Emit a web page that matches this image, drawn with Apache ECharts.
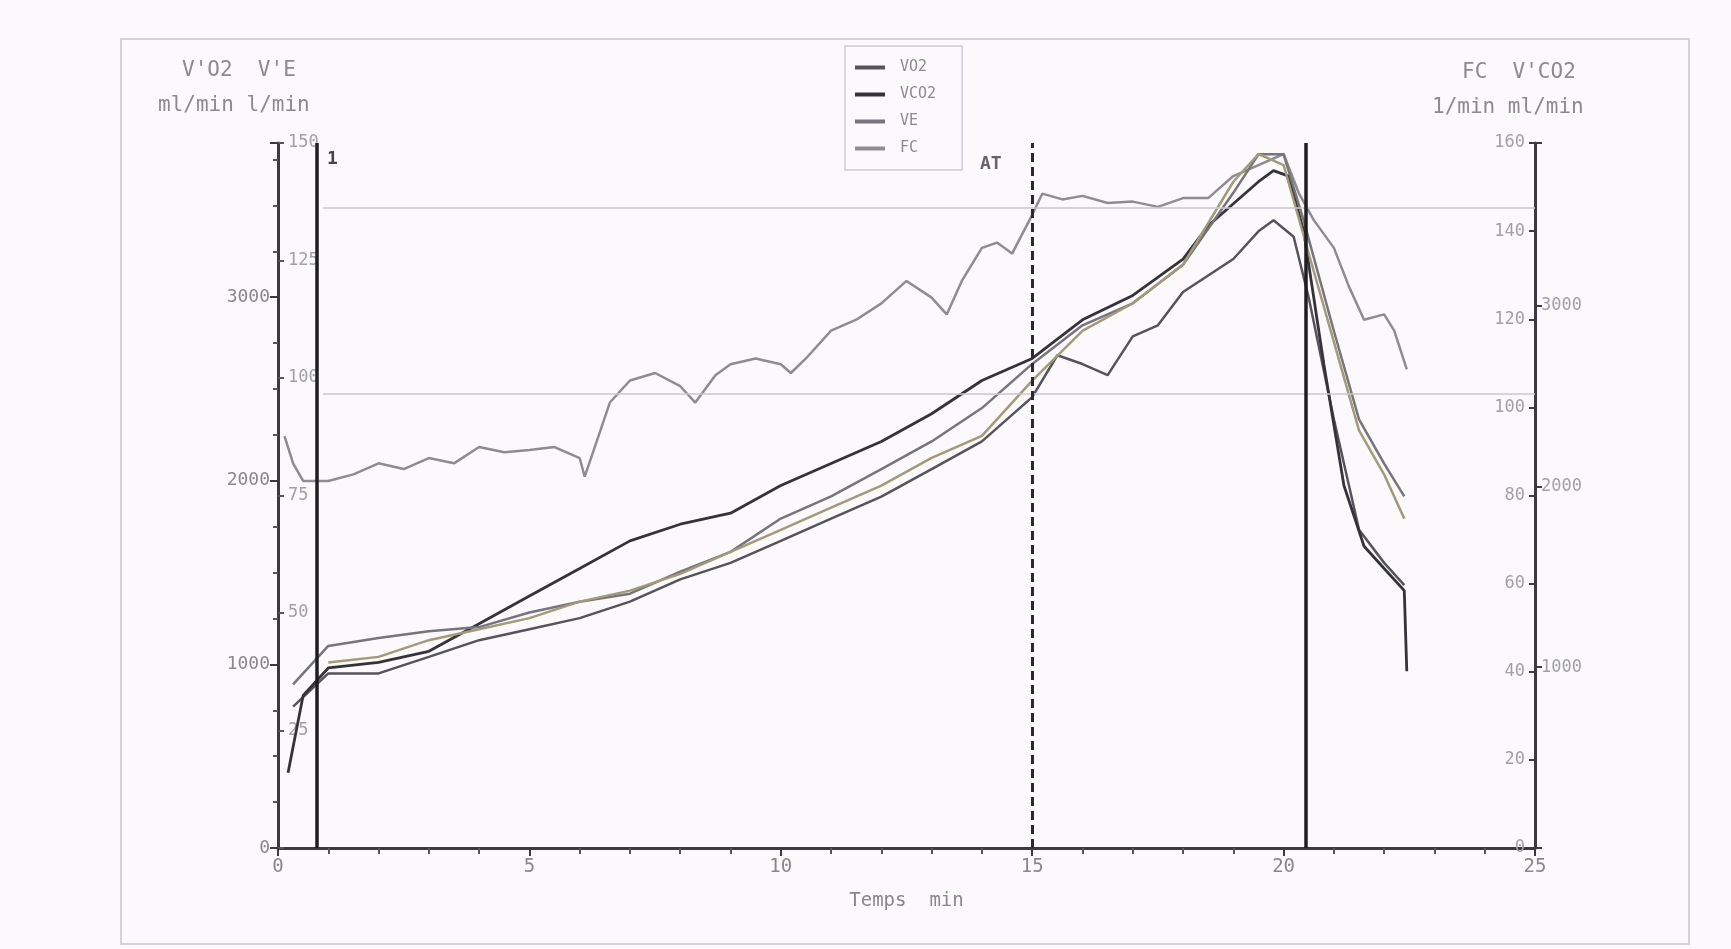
<!DOCTYPE html>
<html>
<head>
<meta charset="utf-8">
<script src="https://cdn.jsdelivr.net/npm/echarts@6/dist/echarts.min.js"></script>
<style>
html,body{margin:0;padding:0;background:#fbf9fb;}
#chart{width:1731px;height:949px;}
</style>
</head>
<body>
<div id="chart"></div>
<script>
'use strict';

// temps (min) et valeurs
var tVO2 = [0.3, 1, 2, 3, 4, 5, 6, 7, 8, 9, 10, 11, 12, 13, 14, 15, 15.5, 16, 16.5, 17, 17.5, 18, 18.5, 19, 19.5, 19.8, 20.2, 20.5, 21, 21.5, 22, 22.4];
var vo2 = [770, 951, 951, 1041, 1132, 1192, 1252, 1342, 1463, 1553, 1673, 1794, 1914, 2064, 2215, 2456, 2684, 2636, 2576, 2787, 2847, 3028, 3118, 3208, 3359, 3419, 3329, 2997, 2335, 1733, 1553, 1432];

var tVCO2 = [0.2, 0.5, 1, 2, 3, 4, 5, 6, 7, 8, 9, 10, 11, 12, 13, 14, 15, 16, 17, 18, 18.5, 19, 19.5, 19.8, 20.1, 20.4, 20.8, 21.2, 21.6, 22, 22.4, 22.45];
var vco2 = [416, 844, 996, 1027, 1088, 1241, 1394, 1546, 1699, 1791, 1852, 2005, 2127, 2249, 2402, 2586, 2708, 2922, 3057, 3258, 3442, 3564, 3686, 3747, 3717, 3411, 2677, 2005, 1669, 1546, 1424, 978];

var tVE = [0.3, 1, 2, 3, 4, 5, 6, 7, 8, 9, 10, 11, 12, 13, 14, 15, 16, 17, 18, 19, 19.5, 20, 20.4, 21, 21.5, 22, 22.4];
var ve = [34.8, 43.0, 44.7, 46.1, 47.0, 50.1, 52.4, 54.1, 58.8, 63.0, 70.1, 74.8, 80.6, 86.5, 93.6, 103.0, 111.2, 115.9, 124.1, 139.4, 147.6, 147.6, 133.5, 110.0, 91.2, 81.8, 74.8];

var tC5 = [1, 2, 3, 4, 5, 6, 7, 8, 9, 10, 11, 12, 13, 14, 15, 16, 17, 18, 19, 19.5, 20, 20.5, 21, 21.5, 22, 22.4];
var c5 = [1011, 1041, 1132, 1192, 1252, 1342, 1402, 1493, 1613, 1733, 1854, 1974, 2125, 2245, 2546, 2817, 2967, 3178, 3629, 3780, 3720, 3238, 2757, 2275, 2034, 1794];

var tFC = [0.13, 0.3, 0.5, 1, 1.5, 2, 2.5, 3, 3.5, 4, 4.5, 5, 5.5, 6, 6.1, 6.3, 6.6, 7, 7.5, 8, 8.3, 8.7, 9, 9.5, 10, 10.2, 10.5, 11, 11.5, 12, 12.5, 13, 13.3, 13.6, 14, 14.3, 14.6, 15, 15.2, 15.6, 16, 16.5, 17, 17.5, 18, 18.5, 19, 19.5, 20, 20.3, 20.6, 21, 21.3, 21.6, 22, 22.2, 22.45];
var fc = [93.5, 87.3, 83.3, 83.3, 84.8, 87.3, 86.0, 88.5, 87.3, 91.0, 89.8, 90.3, 91.0, 88.5, 84.3, 91.0, 101.1, 106.1, 107.8, 104.8, 101.1, 107.3, 109.8, 111.1, 109.8, 107.8, 111.1, 117.4, 119.9, 123.6, 128.7, 124.9, 121.1, 128.7, 136.2, 137.4, 134.9, 143.7, 148.5, 147.2, 148.0, 146.4, 146.7, 145.5, 147.5, 147.5, 152.5, 155.0, 157.5, 148.7, 142.5, 136.2, 127.4, 119.9, 121.1, 117.4, 108.6];

var legendNames = ['VO2', 'VCO2', 'VE', 'FC'];
var xTicks = [0, 5, 10, 15, 20, 25];
var refLevels = [3490, 2475];        // lignes de référence (ml/min)
var eventTimes = [0.77, 20.45];      // début / fin d'effort
var atTime = 15;

function pairs(t, v) {
    return t.map(function(x, i) { return [x, v[i]]; });
}

var mono = "'DejaVu Sans Mono', 'Liberation Mono', monospace";
var labelGrey = '#88878e';

var chart = echarts.init(document.getElementById('chart'));

function onlyMultiple(step) {
    return function(v) { return (v > 0 && v % step === 0) ? String(v) : ''; };
}

var option = {
    backgroundColor: '#fbf9fb',
    animation: false,
    textStyle: { fontFamily: mono },
    grid: { left: 278, right: 196, top: 143, bottom: 101 },
    legend: {
        data: legendNames,
        orient: 'vertical',
        left: 845,
        top: 46,
        padding: [14, 26, 14, 10],
        itemGap: 12,
        itemWidth: 30,
        itemHeight: 4,
        borderColor: '#cfcad6',
        borderWidth: 1.5,
        textStyle: { fontFamily: mono, fontSize: 15, color: '#8a8a90', padding: [0, 0, 0, 10] },
        icon: 'rect'
    },
    xAxis: {
        type: 'value', min: 0, max: 25, interval: 5,
        name: 'Temps  min', nameLocation: 'middle', nameGap: 44,
        nameTextStyle: { fontFamily: mono, fontSize: 19, color: labelGrey },
        axisLine: { lineStyle: { color: '#3a3a40', width: 3 } },
        axisTick: { length: 8, inside: false, lineStyle: { color: '#3a3a40', width: 2 } },
        minorTick: { show: true, splitNumber: 5, length: 6, lineStyle: { color: '#555', width: 2 } },
        axisLabel: { fontFamily: mono, fontSize: 19, color: labelGrey, margin: 10,
            formatter: function(v) { return xTicks.indexOf(v) >= 0 ? String(v) : ''; } },
        splitLine: { show: false }
    },
    yAxis: [
        {   // V'O2 ml/min
            type: 'value', min: 0, max: 3840, interval: 1000, position: 'left',
            axisLine: { show: true, lineStyle: { color: '#3a3a40', width: 3 } },
            axisTick: { show: true, length: 8, lineStyle: { color: '#3a3a40', width: 2 } },
            minorTick: { show: true, splitNumber: 4, length: 5, lineStyle: { color: '#555', width: 2 } },
            axisLabel: { fontFamily: mono, fontSize: 18, color: labelGrey, margin: 8,
                formatter: function(v) { return v % 1000 === 0 ? String(v) : ''; } },
            splitLine: { show: false }
        },
        {   // V'E l/min
            type: 'value', min: 0, max: 150, interval: 25, position: 'left',
            axisLine: { show: false },
            axisTick: { show: true, inside: true, length: 6, lineStyle: { color: '#555', width: 2 } },
            axisLabel: { inside: true, fontFamily: mono, fontSize: 17, color: '#a0a0a6', margin: 10,
                formatter: onlyMultiple(25) },
            splitLine: { show: false }
        },
        {   // FC 1/min
            type: 'value', min: 0, max: 160, interval: 20, position: 'right',
            axisLine: { show: true, lineStyle: { color: '#3a3a40', width: 3 } },
            axisTick: { show: true, inside: true, length: 6, lineStyle: { color: '#3a3a40', width: 2 } },
            axisLabel: { inside: true, fontFamily: mono, fontSize: 17, color: '#a0a0a6', margin: 10 },
            splitLine: { show: false }
        },
        {   // V'CO2 ml/min
            type: 'value', min: 0, max: 3900, interval: 1000, position: 'right',
            axisLine: { show: false },
            axisTick: { show: true, length: 7, lineStyle: { color: '#3a3a40', width: 2 } },
            axisLabel: { fontFamily: mono, fontSize: 17, color: '#a0a0a6', margin: 6,
                formatter: onlyMultiple(1000) },
            splitLine: { show: false }
        }
    ],
    series: [
        {
            name: 'FC', type: 'line', yAxisIndex: 2, data: pairs(tFC, fc),
            showSymbol: false, lineStyle: { color: '#8e8c92', width: 2.5 }, itemStyle: { color: '#8e8c92' },
            markLine: {
                silent: true, symbol: 'none', label: { show: false },
                lineStyle: { color: '#cac6d2', width: 1.5, type: 'solid' },
                data: refLevels.map(function(v) {
                    return [{ coord: [0.9, v * 160 / 3840] }, { coord: [25, v * 160 / 3840] }];
                })
            }
        },
        {
            name: 'VO2', type: 'line', yAxisIndex: 0, data: pairs(tVO2, vo2),
            showSymbol: false, lineStyle: { color: '#55545c', width: 2.5 }, itemStyle: { color: '#55545c' },
            markLine: {
                silent: true, symbol: 'none',
                lineStyle: { color: '#1e1e22', width: 3.5, type: 'solid' },
                label: { show: false },
                data: eventTimes.map(function(t) { return { xAxis: t }; }).concat([
                    { xAxis: atTime, lineStyle: { type: [9, 5], width: 3, color: '#2a2a2e' } }
                ])
            }
        },
        {
            name: 'VCO2', type: 'line', yAxisIndex: 3, data: pairs(tVCO2, vco2),
            showSymbol: false, lineStyle: { color: '#34333a', width: 2.8 }, itemStyle: { color: '#34333a' }
        },
        {
            name: 'VE', type: 'line', yAxisIndex: 1, data: pairs(tVE, ve),
            showSymbol: false, lineStyle: { color: '#76747c', width: 2.5 }, itemStyle: { color: '#76747c' }
        },
        {
            name: 'courbe 5', type: 'line', yAxisIndex: 0, data: pairs(tC5, c5),
            showSymbol: false, lineStyle: { color: '#a39a78', width: 2.5 }, itemStyle: { color: '#a39a78' }
        }
    ],
    graphic: [
        { type: 'rect', shape: { x: 121, y: 39, width: 1568, height: 905 },
          style: { fill: 'none', stroke: '#d6d2dc', lineWidth: 2 }, silent: true },
        { type: 'text', left: 182, top: 60, style: { text: "V'O2  V'E", font: '21px ' + mono, fill: '#8a8a90' } },
        { type: 'text', left: 158, top: 95, style: { text: "ml/min l/min", font: '21px ' + mono, fill: '#8a8a90' } },
        { type: 'text', left: 1462, top: 62, style: { text: "FC  V'CO2", font: '21px ' + mono, fill: '#8a8a90' } },
        { type: 'text', left: 1432, top: 97, style: { text: "1/min ml/min", font: '21px ' + mono, fill: '#8a8a90' } },
        { type: 'text', left: 327, top: 150, style: { text: '1', font: 'bold 18px ' + mono, fill: '#444' } },
        { type: 'text', left: 980, top: 155, style: { text: 'AT', font: 'bold 18px ' + mono, fill: '#66656c' } }
    ]
};

chart.setOption(option);
</script>
</body>
</html>
